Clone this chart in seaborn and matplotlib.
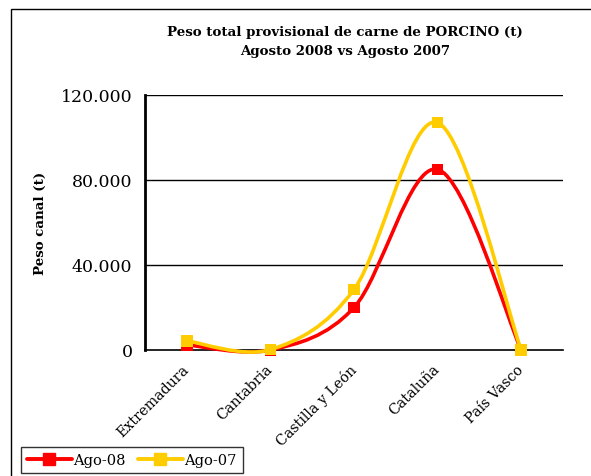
import numpy as np
import pandas as pd
import matplotlib
matplotlib.use('Agg')
import matplotlib.pyplot as plt
import matplotlib.transforms as mtransforms
from matplotlib.path import Path
from matplotlib.patches import PathPatch, Rectangle
from matplotlib.lines import Line2D
import seaborn as sns

# datos
regiones = ['Extremadura', 'Cantabria', 'Castilla y León', 'Cataluña', 'País Vasco']
ago_08 = [2400, 0, 20000, 85000, 0]
ago_07 = [4300, 200, 28500, 107000, 0]
series = ['Ago-08', 'Ago-07']
y_ticks = [0, 40000, 80000, 120000]
y_labels = ['0', '40.000', '80.000', '120.000']
colores = {'Ago-08': '#FF0000', 'Ago-07': '#FFCC00'}

df = pd.DataFrame({
    'region': regiones * 2,
    'pos': list(range(len(regiones))) * 2,
    'peso': ago_08 + ago_07,
    'serie': ['Ago-08'] * len(regiones) + ['Ago-07'] * len(regiones),
})

sns.set_style('white', rc={'text.color': 'black', 'axes.labelcolor': 'black',
                           'xtick.color': 'black', 'ytick.color': 'black'})
plt.rcParams['font.family'] = ['DejaVu Serif']


def curva_suave(x, y):
    # linea suavizada tipo Excel (bezier con tangentes catmull-rom)
    p = np.column_stack([x, y]).astype(float)
    n = len(p)
    d = [(p[min(i + 1, n - 1)] - p[max(i - 1, 0)]) / 6 for i in range(n)]
    verts = [tuple(p[0])]
    codes = [Path.MOVETO]
    for i in range(n - 1):
        verts += [tuple(p[i] + d[i]), tuple(p[i + 1] - d[i + 1]), tuple(p[i + 1])]
        codes += [Path.CURVE4] * 3
    return Path(verts, codes)


fig = plt.figure(figsize=(5.91, 4.77), dpi=100)
ax = fig.add_axes([145 / 591, 1 - 351 / 477, 418 / 591, 255 / 477])

for i, s in enumerate(series):
    sub = df[df['serie'] == s]
    ax.add_patch(PathPatch(curva_suave(sub['pos'], sub['peso']), fill=False,
                           edgecolor=colores[s], lw=2.6, clip_on=False, zorder=3 + i))
sns.scatterplot(data=df, x='pos', y='peso', hue='serie', palette=colores,
                marker='s', s=70, linewidth=0, legend=False, ax=ax, zorder=6, clip_on=False)

ax.set_xlim(-0.5, len(regiones) - 0.5)
ax.set_ylim(0, 120000)
ax.set_yticks(y_ticks)
ax.set_yticklabels(y_labels, fontsize=12.5)
ax.set_xticks(range(len(regiones)))
ax.set_xticklabels(regiones, rotation=45, ha='right', va='center', rotation_mode='anchor', fontsize=10.3)
# desplazar un poco las etiquetas hacia la izquierda
desplaza = mtransforms.ScaledTranslation(-6 / 100, 0, fig.dpi_scale_trans)
for lab in ax.get_xticklabels():
    lab.set_transform(lab.get_transform() + desplaza)
ax.set_xticks(np.arange(-0.5, len(regiones)), minor=True)
ax.tick_params(axis='x', which='major', length=0, pad=12)
ax.tick_params(axis='x', which='minor', length=5, width=1, direction='out', color='black')
ax.tick_params(axis='y', length=10, width=1.5, direction='inout', color='black', pad=4)
ax.set_xlabel('')
ax.set_ylabel('Peso canal (t)', fontsize=9.6, fontweight='bold', labelpad=10)

for v in y_ticks[1:]:
    ax.axhline(v, color='black', lw=1, zorder=1)
for side in ['top', 'right']:
    ax.spines[side].set_visible(False)
ax.spines['left'].set_linewidth(2)
ax.spines['bottom'].set_linewidth(1.2)
ax.spines['left'].set_color('black')
ax.spines['bottom'].set_color('black')

fig.text(345 / 591, 1 - 42 / 477, 'Peso total provisional de carne de PORCINO (t)\nAgosto 2008 vs Agosto 2007',
         ha='center', va='center', fontsize=9.6, fontweight='bold', linespacing=1.55)

handles = [Line2D([], [], color=colores[s], lw=2.8, marker='s', markersize=8) for s in series]
fig.legend(handles, series, loc='lower left', bbox_to_anchor=(21 / 591, 3 / 477), ncol=2,
           frameon=True, fancybox=False, edgecolor='black', fontsize=10.5, borderpad=0.4,
           handlelength=3.1, handletextpad=0.1, columnspacing=0.8, borderaxespad=0)

fig.patches.append(Rectangle((11 / 591, -0.1), 2, 1.1 - 10 / 477, transform=fig.transFigure,
                             fill=False, edgecolor='black', lw=1))

fig.savefig('out.png', dpi=100)
